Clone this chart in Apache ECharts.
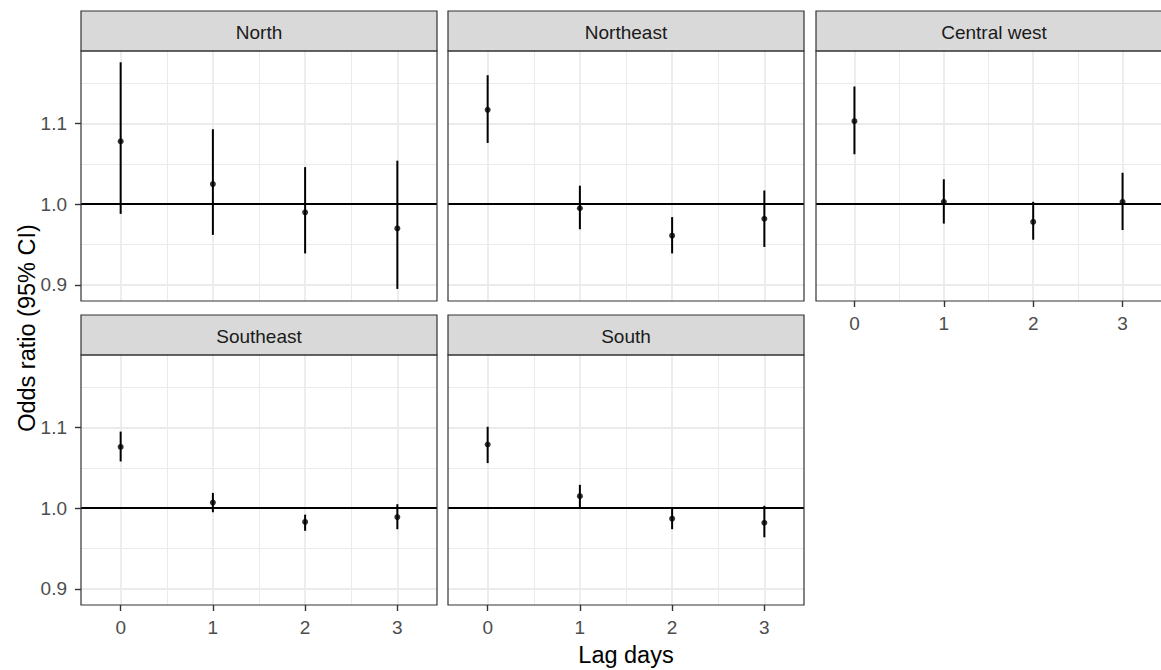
<!DOCTYPE html>
<html>

<head>
    <meta charset="UTF-8">
    <script src="https://cdn.jsdelivr.net/npm/echarts@6/dist/echarts.min.js"></script>
    <title>Odds ratio by lag days</title>
    <style>
        html, body { margin: 0; padding: 0; background: #fff; }
        #chart { width: 1161px; height: 670px; }
    </style>
</head>

<body>
    <div id="chart"></div>
</body>

</html>
<script>
    // data
    const lags = [0, 1, 2, 3];
    const regions = ['North', 'Northeast', 'Central west', 'Southeast', 'South'];

    const northOR = [1.078, 1.025, 0.990, 0.970];
    const northLo = [0.988, 0.962, 0.939, 0.895];
    const northHi = [1.176, 1.093, 1.046, 1.054];

    const northeastOR = [1.117, 0.995, 0.961, 0.982];
    const northeastLo = [1.076, 0.969, 0.939, 0.947];
    const northeastHi = [1.160, 1.023, 0.984, 1.017];

    const centralWestOR = [1.103, 1.003, 0.978, 1.003];
    const centralWestLo = [1.062, 0.976, 0.956, 0.968];
    const centralWestHi = [1.146, 1.031, 1.003, 1.039];

    const southeastOR = [1.076, 1.007, 0.983, 0.989];
    const southeastLo = [1.058, 0.995, 0.972, 0.974];
    const southeastHi = [1.095, 1.019, 0.992, 1.005];

    const southOR = [1.079, 1.015, 0.987, 0.982];
    const southLo = [1.056, 1.000, 0.974, 0.964];
    const southHi = [1.101, 1.029, 1.000, 1.003];

    const yTicks = [0.9, 1.0, 1.1];
    const xTicks = [0, 1, 2, 3];
    const yMinor = [0.95, 1.05, 1.15];
    const xMinor = [0.5, 1.5, 2.5];
    const refValue = 1.0;

    const estimates = [northOR, northeastOR, centralWestOR, southeastOR, southOR];
    const lows = [northLo, northeastLo, centralWestLo, southeastLo, southLo];
    const highs = [northHi, northeastHi, centralWestHi, southeastHi, southHi];

    // layout of the facets
    const FONT = "'Liberation Sans', Arial, sans-serif";
    const PW = 356, PH = 250, STRIP = 40;
    const panels = [
        { left: 81, top: 51, xLab: false, yLab: true },
        { left: 448, top: 51, xLab: false, yLab: false },
        { left: 816, top: 51, xLab: true, yLab: false },
        { left: 81, top: 355, xLab: true, yLab: true },
        { left: 448, top: 355, xLab: true, yLab: false }
    ];

    var chart = echarts.init(document.getElementById('chart'), null, { renderer: 'svg' });

    let grid = [], xAxis = [], yAxis = [], series = [], graphic = [];

    panels.forEach((p, i) => {
        grid.push({ left: p.left, top: p.top, width: PW, height: PH, containLabel: false });

        xAxis.push({
            type: 'value', gridIndex: i, min: -0.43, max: 3.43,
            minInterval: 1, maxInterval: 1,
            axisLine: { show: false, onZero: false },
            axisTick: { show: p.xLab, length: 6, customValues: xTicks, lineStyle: { color: '#333', width: 1.4 } },
            axisLabel: { show: p.xLab, customValues: xTicks, margin: 13, color: '#4d4d4d', fontSize: 19, fontFamily: FONT },
            splitLine: { show: true, lineStyle: { color: '#ebebeb', width: 1.8 } }
        });
        yAxis.push({
            type: 'value', gridIndex: i, min: 0.88, max: 1.19,
            minInterval: 0.1, maxInterval: 0.1,
            axisLine: { show: false, onZero: false },
            axisTick: { show: p.yLab, length: 6, customValues: yTicks, lineStyle: { color: '#333', width: 1.4 } },
            axisLabel: {
                show: p.yLab, customValues: yTicks, margin: 14, color: '#4d4d4d', fontSize: 19, fontFamily: FONT,
                formatter: v => v.toFixed(1)
            },
            splitLine: { show: true, lineStyle: { color: '#ebebeb', width: 1.8 } }
        });

        // minor grid lines
        series.push({
            type: 'line', xAxisIndex: i, yAxisIndex: i, data: [], z: 1, silent: true,
            markLine: {
                z: 1, silent: true, symbol: ['none', 'none'], animation: false,
                label: { show: false },
                lineStyle: { color: '#ebebeb', width: 1, type: 'solid' },
                data: yMinor.map(v => ({ yAxis: v })).concat(xMinor.map(v => ({ xAxis: v })))
            }
        });
        // reference line at 1
        series.push({
            type: 'line', xAxisIndex: i, yAxisIndex: i, data: [], z: 2, silent: true,
            markLine: {
                z: 2, silent: true, symbol: ['none', 'none'], animation: false,
                label: { show: false },
                lineStyle: { color: '#000', width: 1.8, type: 'solid' },
                data: [{ yAxis: refValue }]
            }
        });
        // confidence intervals
        series.push({
            type: 'custom', xAxisIndex: i, yAxisIndex: i, z: 3,
            data: lags.map((x, k) => [x, lows[i][k], highs[i][k]]),
            encode: { x: 0, y: [1, 2] },
            renderItem: function (params, api) {
                const a = api.coord([api.value(0), api.value(1)]);
                const b = api.coord([api.value(0), api.value(2)]);
                return {
                    type: 'line',
                    shape: { x1: a[0], y1: a[1], x2: b[0], y2: b[1] },
                    style: { stroke: '#000', lineWidth: 2 }
                };
            }
        });
        // point estimates
        series.push({
            type: 'scatter', xAxisIndex: i, yAxisIndex: i, z: 4,
            symbolSize: 6, itemStyle: { color: '#000' },
            data: lags.map((x, k) => [x, estimates[i][k]])
        });

        // strip + border
        graphic.push({
            type: 'rect', z: 10,
            shape: { x: p.left, y: p.top - STRIP, width: PW, height: STRIP },
            style: { fill: '#d9d9d9', stroke: '#333', lineWidth: 1.2 }
        });
        graphic.push({
            type: 'text', z: 11, x: p.left + PW / 2, y: p.top - STRIP + 21.5,
            style: { text: regions[i], fill: '#1a1a1a', font: '19px ' + FONT, textAlign: 'center', textVerticalAlign: 'middle' }
        });
        graphic.push({
            type: 'rect', z: 10,
            shape: { x: p.left, y: p.top, width: PW, height: PH },
            style: { fill: 'none', stroke: '#333', lineWidth: 1.2 }
        });
    });

    // axis titles
    graphic.push({
        type: 'text', z: 11, x: 626, y: 655,
        style: { text: 'Lag days', fill: '#000', font: '23.5px ' + FONT, textAlign: 'center', textVerticalAlign: 'middle' }
    });
    graphic.push({
        type: 'text', z: 11, x: 27, y: 328, rotation: Math.PI / 2,
        style: { text: 'Odds ratio (95% CI)', fill: '#000', font: '23.5px ' + FONT, textAlign: 'center', textVerticalAlign: 'middle' }
    });

    var option = {
        animation: false,
        backgroundColor: '#fff',
        grid: grid,
        xAxis: xAxis,
        yAxis: yAxis,
        series: series,
        graphic: graphic
    };

    chart.setOption(option);
</script>
